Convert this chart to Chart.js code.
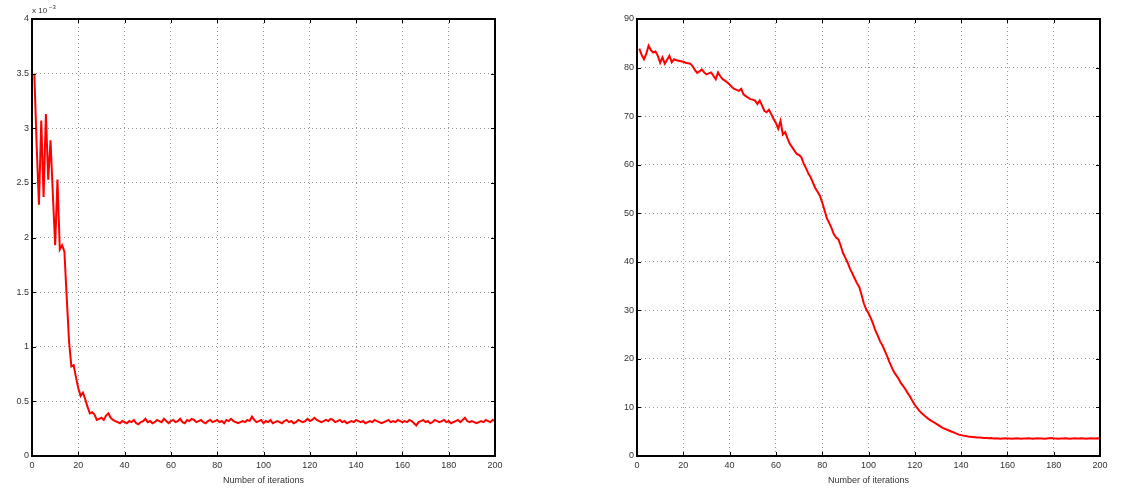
<!DOCTYPE html>
<html>
<head>
<meta charset="utf-8">
<script src="https://cdn.jsdelivr.net/npm/chart.js@4"></script>
<style>
  body { margin: 0; background: #fff; }
  .box { position: absolute; top: 0; height: 492px; }
  #leftBox { left: 0; width: 522px; }
  #rightBox { left: 600px; width: 522px; }
</style>
</head>
<body>
<div class="box" id="leftBox"><canvas id="leftChart"></canvas></div>
<div class="box" id="rightBox"><canvas id="rightChart"></canvas></div>
<script>
'use strict';

// iterations axis
const xTicks = [0, 20, 40, 60, 80, 100, 120, 140, 160, 180, 200];

// left panel: values in units of 1e-3 (iterations 1..200)
const leftTicks = [0, 0.5, 1, 1.5, 2, 2.5, 3, 3.5, 4];
const leftValues = [
    3.50, 2.85, 2.30, 3.07, 2.37, 3.13, 2.53, 2.89, 2.40, 1.93,
    2.53, 1.89, 1.93, 1.87, 1.45, 1.05, 0.82, 0.83, 0.72, 0.62,
    0.55, 0.58, 0.52, 0.45, 0.39, 0.40, 0.38, 0.33, 0.34, 0.35,
    0.33, 0.37, 0.39, 0.35, 0.33, 0.32, 0.31, 0.30, 0.32, 0.31,
    0.30, 0.32, 0.31, 0.33, 0.30, 0.29, 0.31, 0.32, 0.34, 0.31,
    0.32, 0.30, 0.31, 0.33, 0.32, 0.31, 0.34, 0.32, 0.30, 0.32,
    0.33, 0.31, 0.32, 0.34, 0.31, 0.30, 0.33, 0.32, 0.34, 0.33,
    0.31, 0.32, 0.33, 0.31, 0.30, 0.32, 0.33, 0.31, 0.32, 0.33,
    0.31, 0.32, 0.30, 0.33, 0.32, 0.34, 0.32, 0.31, 0.30, 0.31,
    0.32, 0.31, 0.33, 0.32, 0.36, 0.33, 0.31, 0.32, 0.33, 0.30,
    0.32, 0.31, 0.33, 0.30, 0.31, 0.32, 0.31, 0.30, 0.32, 0.33,
    0.31, 0.32, 0.30, 0.31, 0.33, 0.32, 0.31, 0.32, 0.34, 0.32,
    0.33, 0.35, 0.33, 0.32, 0.31, 0.32, 0.33, 0.32, 0.34, 0.33,
    0.31, 0.32, 0.33, 0.31, 0.32, 0.30, 0.31, 0.32, 0.31, 0.33,
    0.32, 0.31, 0.32, 0.30, 0.31, 0.32, 0.31, 0.33, 0.32, 0.31,
    0.30, 0.31, 0.32, 0.33, 0.31, 0.32, 0.31, 0.33, 0.32, 0.31,
    0.32, 0.31, 0.33, 0.32, 0.30, 0.28, 0.31, 0.32, 0.33, 0.31,
    0.32, 0.30, 0.31, 0.33, 0.32, 0.31, 0.32, 0.33, 0.31, 0.32,
    0.30, 0.31, 0.32, 0.33, 0.31, 0.33, 0.35, 0.32, 0.31, 0.32,
    0.31, 0.30, 0.31, 0.32, 0.31, 0.33, 0.32, 0.31, 0.33, 0.32
];

// right panel (iterations 1..200)
const rightTicks = [0, 10, 20, 30, 40, 50, 60, 70, 80, 90];
const rightValues = [
    83.9, 82.6, 81.7, 82.8, 84.5, 83.6, 83.1, 83.3, 82.4, 81.0,
    82.1, 80.8, 81.6, 82.4, 81.1, 81.7, 81.5, 81.4, 81.3, 81.2,
    81.0, 80.9, 80.8, 80.3, 79.5, 78.9, 79.2, 79.6, 79.0, 78.6,
    78.8, 79.0, 78.3, 77.6, 79.0, 78.2, 77.6, 77.3, 76.9, 76.5,
    76.0, 75.6, 75.4, 75.2, 75.6, 74.5, 74.1, 73.8, 73.5, 73.4,
    73.2, 72.5, 73.2, 72.2, 71.1, 70.8, 71.3, 70.4, 69.4, 68.6,
    67.4, 69.0, 66.2, 66.7, 65.4, 64.3, 63.6, 62.9, 62.2, 62.0,
    61.5, 60.2, 59.3, 58.2, 57.4, 56.3, 55.2, 54.4, 53.6, 52.2,
    50.6, 49.0, 48.0, 47.0, 45.7, 45.0, 44.6, 43.3, 41.8, 40.8,
    39.8, 38.6, 37.6, 36.6, 35.6, 34.8, 33.2, 31.4, 30.2, 29.4,
    28.4, 27.2, 25.8, 24.8, 23.6, 22.8, 21.7, 20.6, 19.4, 18.3,
    17.3, 16.6, 15.9, 15.0, 14.4, 13.7, 12.9, 12.2, 11.3, 10.5,
    9.9, 9.3, 8.8, 8.4, 8.0, 7.6, 7.3, 7.0, 6.7, 6.4,
    6.1, 5.8, 5.6, 5.4, 5.2, 5.0, 4.8, 4.6, 4.4, 4.3,
    4.2, 4.1, 4.0, 3.95, 3.9, 3.85, 3.8, 3.8, 3.75, 3.7,
    3.7, 3.65, 3.7, 3.6, 3.65, 3.6, 3.55, 3.6, 3.65, 3.6,
    3.6, 3.55, 3.6, 3.65, 3.6, 3.55, 3.6, 3.6, 3.65, 3.6,
    3.55, 3.6, 3.65, 3.6, 3.6, 3.55, 3.6, 3.65, 3.7, 3.6,
    3.6, 3.55, 3.6, 3.6, 3.65, 3.6, 3.55, 3.6, 3.65, 3.6,
    3.6, 3.65, 3.6, 3.55, 3.6, 3.65, 3.6, 3.6, 3.65, 3.6
];

const FONT = "'Liberation Sans', Arial, sans-serif";

// matlab style box with inward ticks
const boxPlugin = {
    id: 'box',
    afterDatasetsDraw(chart) {
        const { ctx, chartArea: a, scales } = chart;
        ctx.save();
        ctx.strokeStyle = '#000';
        ctx.lineWidth = 1;
        ctx.beginPath();
        for (const v of xTicks) {
            const px = Math.round(scales.x.getPixelForValue(v)) + 0.5;
            ctx.moveTo(px, a.bottom); ctx.lineTo(px, a.bottom - 4);
            ctx.moveTo(px, a.top); ctx.lineTo(px, a.top + 4);
        }
        for (const v of chart.options.yTickList) {
            const py = Math.round(scales.y.getPixelForValue(v)) + 0.5;
            ctx.moveTo(a.left, py); ctx.lineTo(a.left + 4, py);
            ctx.moveTo(a.right, py); ctx.lineTo(a.right - 4, py);
        }
        ctx.stroke();
        ctx.lineWidth = 2;
        ctx.strokeRect(a.left, a.top, a.right - a.left, a.bottom - a.top);
        if (chart.options.exponentLabel) {
            ctx.fillStyle = '#333';
            ctx.font = '8px ' + FONT;
            ctx.textBaseline = 'alphabetic';
            ctx.fillText('x 10', a.left, a.top - 6);
            ctx.font = '6px ' + FONT;
            ctx.fillText('\u22123', a.left + 17, a.top - 10);
        }
        ctx.restore();
    }
};

function makeChart(id, values, yTicks, yMax, yWidth, rightPad, exponent) {
    const points = values.map((v, i) => ({ x: i + 1, y: v }));
    return new Chart(document.getElementById(id), {
        type: 'line',
        data: {
            datasets: [{
                data: points,
                borderColor: '#ff0000',
                borderWidth: 2,
                pointRadius: 0,
                tension: 0
            }]
        },
        options: {
            responsive: true,
            maintainAspectRatio: false,
            animation: false,
            yTickList: yTicks,
            exponentLabel: exponent,
            layout: { padding: { top: 19, right: rightPad, left: 0, bottom: 0 } },
            plugins: { legend: { display: false }, tooltip: { enabled: false } },
            scales: {
                x: {
                    type: 'linear', min: 0, max: 200,
                    afterBuildTicks: (s) => { s.ticks = xTicks.map(v => ({ value: v })); },
                    afterFit: (s) => { s.height = 36; },
                    grid: { color: '#9a9a9a', lineWidth: 1, drawTicks: false },
                    border: { display: false, dash: [1, 3] },
                    ticks: { color: '#333', font: { family: FONT, size: 9 }, padding: 4, maxRotation: 0 },
                    title: { display: true, text: 'Number of iterations', color: '#333',
                             font: { family: FONT, size: 9 }, padding: { top: 0, bottom: 6 } }
                },
                y: {
                    type: 'linear', min: 0, max: yMax,
                    afterBuildTicks: (s) => { s.ticks = yTicks.map(v => ({ value: v })); },
                    afterFit: (s) => { s.width = yWidth; },
                    grid: { color: '#9a9a9a', lineWidth: 1, drawTicks: false },
                    border: { display: false, dash: [1, 3] },
                    ticks: { color: '#333', font: { family: FONT, size: 9 }, padding: 3,
                             callback: (v) => String(v) }
                }
            }
        },
        plugins: [boxPlugin]
    });
}

makeChart('leftChart', leftValues, leftTicks, 4, 32, 27, true);
makeChart('rightChart', rightValues, rightTicks, 90, 37, 22, false);
</script>
</body>
</html>
